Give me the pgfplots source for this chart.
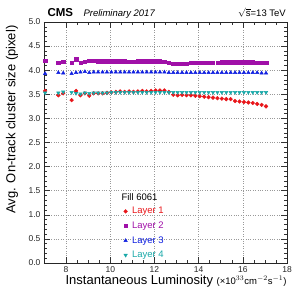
\documentclass[border=0pt]{standalone}
\usepackage{pgfplots}
\usepackage{pgfplotstable}
\pgfplotsset{compat=1.18}
\usepackage{fontspec}
\setmainfont{Liberation Sans}
\definecolor{lred}{HTML}{E8161A}
\definecolor{lpurple}{HTML}{A010A8}
\definecolor{lblue}{HTML}{1020E0}
\definecolor{lcyan}{HTML}{18A8A8}
\pgfplotstableread{
x     l1    l2    l3    l4
7.05  3.57  4.20  3.93  3.53
7.65  3.48  4.15  3.95  3.53
7.87  3.52  4.18  3.94  3.55
8.25  3.38  4.15  3.93  3.54
8.45  3.57  4.23  3.95  3.52
8.65  3.48  4.16  3.96  3.51
8.85  3.52  4.18  3.97  3.53
9.05  3.47  4.20  3.95  3.52
9.25  3.52  4.20  3.96  3.53
9.45  3.52  4.19  3.96  3.53
9.65  3.52  4.19  3.96  3.53
9.85  3.53  4.19  3.96  3.53
10.05 3.54  4.19  3.96  3.54
10.25 3.55  4.19  3.96  3.54
10.45 3.56  4.19  3.96  3.54
10.65 3.55  4.19  3.96  3.54
10.85 3.56  4.18  3.96  3.54
11.05 3.55  4.18  3.96  3.54
11.25 3.56  4.19  3.96  3.54
11.45 3.57  4.19  3.96  3.54
11.65 3.56  4.19  3.96  3.54
11.85 3.57  4.19  3.96  3.54
12.05 3.58  4.19  3.96  3.54
12.25 3.58  4.19  3.96  3.54
12.45 3.58  4.18  3.96  3.54
12.65 3.55  4.15  3.95  3.54
12.85 3.49  4.14  3.95  3.54
13.05 3.48  4.13  3.95  3.54
13.25 3.49  4.13  3.95  3.54
13.45 3.48  4.14  3.95  3.54
13.65 3.48  4.15  3.95  3.54
13.85 3.47  4.15  3.95  3.54
14.05 3.46  4.15  3.95  3.54
14.25 3.45  4.16  3.95  3.54
14.45 3.44  4.16  3.95  3.54
14.65 3.43  4.16  3.95  3.54
14.85 3.42  4.16  3.95  3.54
15.05 3.41  4.17  3.95  3.54
15.25 3.40  4.17  3.95  3.54
15.45 3.40  4.17  3.95  3.54
15.65 3.36  4.17  3.95  3.54
15.85 3.35  4.17  3.95  3.54
16.05 3.34  4.17  3.95  3.54
16.25 3.33  4.17  3.95  3.54
16.45 3.32  4.17  3.95  3.54
16.65 3.30  4.16  3.95  3.54
16.85 3.28  4.16  3.94  3.54
17.05 3.25  4.16  3.94  3.54
}\datatable
\begin{document}
\begin{tikzpicture}
\begin{axis}[
  at={(0,0)}, anchor=south west,
  scale only axis, width=243pt, height=241pt,
  xmin=7, xmax=18, ymin=0, ymax=5,
  xtick={8,10,...,18}, ytick={0,0.5,...,5},
  yticklabels={0.0,0.5,1.0,1.5,2.0,2.5,3.0,3.5,4.0,4.5,5.0},
  minor x tick num=3, minor y tick num=4,
  /pgf/number format/assume math mode=true,
  ticklabel style={font=\fontsize{8.5}{9}\selectfont, text=black!85},
  major tick length=6pt, minor tick length=3pt,
  tick style={black!80, line width=0.5pt},
  axis line style={black!85, line width=0.7pt},
  grid=major,
  major grid style={black!40, dotted, line width=0.5pt},
  xlabel={Instantaneous Luminosity {\fontsize{9.5}{10}\selectfont(×10$^{33}$cm$^{-2}$s$^{-1}$)}},
  ylabel={Avg. On-track cluster size (pixel)},
  every axis x label/.style={at={(axis description cs:1,0)}, anchor=east, yshift=-18pt, xshift=3pt, font=\fontsize{13}{14}\selectfont},
  every axis y label/.style={at={(axis description cs:0,1)}, anchor=east, rotate=90, yshift=32pt, font=\fontsize{13}{14}\selectfont},
  legend style={at={(axis cs:10.6,1.2)}, anchor=north west, draw=none, fill=none,
    font=\fontsize{9.5}{11}\selectfont, row sep=2.5pt, inner sep=0pt},
  legend cell align=left,
]
\addplot[only marks, mark=*, mark size=1.9pt, color=lred] table[x=x,y=l1]{\datatable};
\addlegendentry{\hspace{2.5pt}\textcolor{lred}{Layer 1}}
\addplot[only marks, mark=square*, mark size=1.7pt, color=lpurple] table[x=x,y=l2]{\datatable};
\addlegendentry{\hspace{2.5pt}\textcolor{lpurple}{Layer 2}}
\addplot[only marks, mark=triangle*, mark size=2pt, color=lblue] table[x=x,y=l3]{\datatable};
\addlegendentry{\hspace{2.5pt}\textcolor{lblue}{Layer 3}}
\addplot[only marks, mark=triangle*, mark options={rotate=180}, mark size=2pt, color=lcyan] table[x=x,y=l4]{\datatable};
\addlegendentry{\hspace{2.5pt}\textcolor{lcyan}{Layer 4}}
\node[anchor=west, font=\fontsize{9.5}{11}\selectfont] at (axis cs:10.35,1.37) {Fill 6061};
\end{axis}
\node[anchor=base west, font=\bfseries\fontsize{11.5}{12}\selectfont] at (0pt,247pt) {CMS};
\node[anchor=base west, font=\itshape\fontsize{9.5}{10}\selectfont] at (36pt,247pt) {Preliminary 2017};
\node[anchor=base east, font=\fontsize{9.5}{10}\selectfont, inner sep=1pt] at (243pt,247pt) {$\sqrt{\mbox{s}}$=13 TeV};
\path[use as bounding box] (-44pt,-30pt) rectangle (253pt,263pt);
\end{tikzpicture}
\end{document}
